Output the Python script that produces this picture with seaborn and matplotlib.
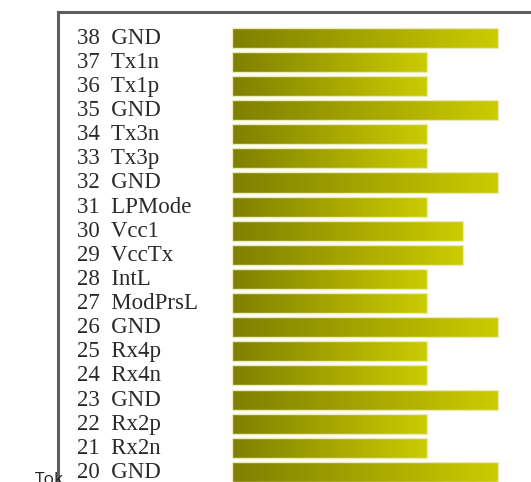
import numpy as np
import pandas as pd
import matplotlib
matplotlib.use("Agg")
import matplotlib.pyplot as plt
import seaborn as sns

# pin numbers and names, top to bottom
pins = [38, 37, 36, 35, 34, 33, 32, 31, 30, 29, 28, 27, 26, 25, 24, 23, 22, 21, 20]
names = ["GND", "Tx1n", "Tx1p", "GND", "Tx3n", "Tx3p", "GND", "LPMode", "Vcc1", "VccTx",
         "IntL", "ModPrsL", "GND", "Rx4p", "Rx4n", "GND", "Rx2p", "Rx2n", "GND"]
# bar lengths (GND long, power medium, signals short)
lengths = [30, 22, 22, 30, 22, 22, 30, 22, 26, 26, 22, 22, 30, 22, 22, 30, 22, 22, 30]

labels = [f"{p}  {n}" for p, n in zip(pins, names)]
df = pd.DataFrame({"label": labels, "length": lengths})

sns.set_style("white")

fig = plt.figure(figsize=(5.31, 4.82), dpi=100)
W, H = 531, 482
# frame: left 58px, top 12px, runs off right and bottom edge
ax = fig.add_axes([58 / W, 1 - 496 / H, (545 - 58) / W, 484 / H])

sns.barplot(data=df, y="label", x="length", orient="h", width=0.83,
            color="#a5a500", ax=ax)

# gradient fill inside each bar
grad = np.linspace(0, 1, 256).reshape(1, -1)
cmap = matplotlib.colors.LinearSegmentedColormap.from_list("olive", ["#7f7f00", "#cccc00"])
for patch in ax.patches:
    x0, y0 = patch.get_x(), patch.get_y()
    w, h = patch.get_width(), patch.get_height()
    im = ax.imshow(grad, extent=[x0, x0 + w, y0 + h, y0], aspect="auto",
                   cmap=cmap, zorder=2, interpolation="bicubic")
    im.set_clip_path(patch)
    patch.set_facecolor("none")
    patch.set_edgecolor("#ecebb8")
    patch.set_linewidth(1.0)
    patch.set_zorder(3)
ax.set_xlim(-19.62, 35.3)
ax.set_ylim(19.0, -1.07)

# pin labels inside the frame
for i, lab in enumerate(labels):
    ax.text(0.039, i + 0.02, lab, transform=ax.get_yaxis_transform(),
            ha="left", va="center", fontsize=16.5, color="#2a2a2a",
            family=["Liberation Serif", "DejaVu Serif"])

ax.set_xticks([])
ax.set_yticks([])
ax.set_xlabel("")
ax.set_ylabel("")
for s in ax.spines.values():
    s.set_color("#5e5e5e")
    s.set_linewidth(2.2)
    s.set_visible(True)

fig.text(35 / W, 1 - 472 / H, "Tok", ha="left", va="top", fontsize=12.5,
         color="#222222", family=["Open Sans", "DejaVu Sans"])

fig.savefig("out.png", dpi=100)
